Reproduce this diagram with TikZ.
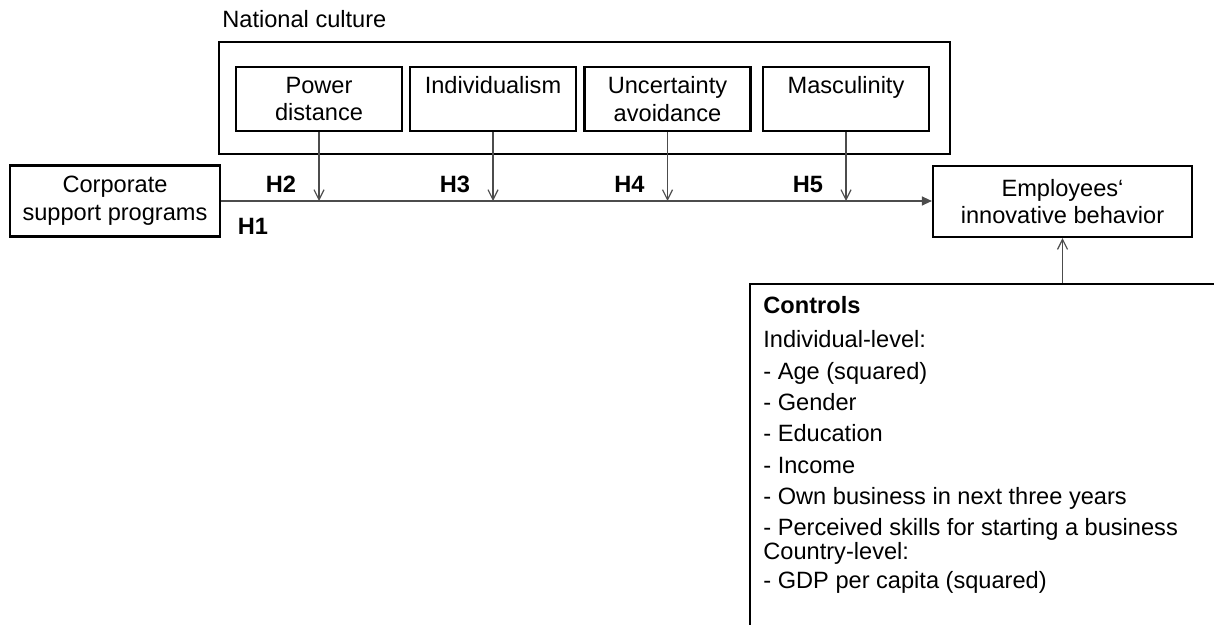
\documentclass[tikz,border=0pt]{standalone}
\usepackage{fontspec}
\setmainfont{Liberation Sans}
\usetikzlibrary{arrows.meta}

\begin{document}
\begin{tikzpicture}[x=0.5pt,y=-0.5pt,
  font=\fontsize{11.8}{13.8}\selectfont,
  box/.style={draw,line width=1.1pt,align=center,inner sep=0pt},
  dimbox/.style={box,minimum width=83pt,minimum height=32pt},
  modarrow/.style={draw=black!70,line width=0.6pt,-{Straight Barb[length=5pt,width=5pt]}},
  mainarrow/.style={draw=black!70,line width=0.6pt,-{Triangle[length=5pt,width=4.5pt]}},
  hlabel/.style={font=\fontsize{11.8}{13.8}\selectfont\bfseries}]
\clip (0,0) rectangle (1214,625);

\node[anchor=base west,inner sep=0pt] (nclabel) at (222,28) {National culture};
\node[box,minimum width=365.5pt,minimum height=56pt] (culture) at (584.5,98) {};

\node[box,minimum width=105pt,minimum height=35.5pt] (corp) at (115,201) {Corporate\\support programs};
\node[box,minimum width=129.5pt,minimum height=35.5pt] (emp) at (1062.5,201.5) {Employees‘\\innovative behavior};

\draw[mainarrow] (corp.east) -- (corp.east -| emp.west);
\node[hlabel] (h1) at (253,226) {H1};

\foreach \name/\x/\txt [count=\i] in {pd/319/{Power\\distance},ind/493/{Individualism\\\mbox{}},
    unc/667.5/{Uncertainty\\avoidance},mas/846/{Masculinity\\\mbox{}}}
{\pgfmathtruncatemacro{\hnum}{\i+1}
\node[dimbox] (\name) at (\x,99) {\txt};
\draw[modarrow] (\name.south) -- (\name.south |- corp.east);
\node[hlabel] (h\hnum) at (\x-38,184) {H\hnum};
}

\node[box,anchor=north west,minimum width=260pt,minimum height=190pt] (ctrlbox) at (749,283) {};
\node[anchor=north west,align=left,inner sep=0pt,
  font=\fontsize{11.8}{15.65}\selectfont] (ctrllist) at (763,296)
  {\textbf{Controls}\\[1.5pt]
   Individual-level:\\
   - Age (squared)\\
   - Gender\\
   - Education\\
   - Income\\
   - Own business in next three years\\
   - Perceived skills for starting a business\\[-3.5pt]
   Country-level:\\[-1.5pt]
   - GDP per capita (squared)};
\draw[modarrow] (emp.south |- ctrlbox.north) -- (emp.south);

\end{tikzpicture}
\end{document}
